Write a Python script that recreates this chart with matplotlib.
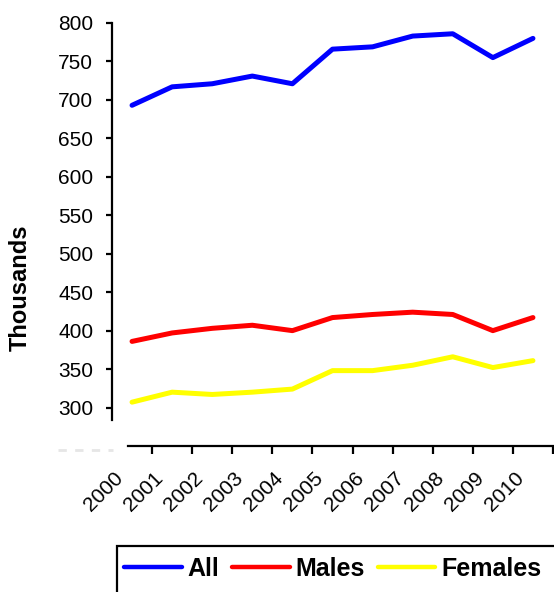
import matplotlib
matplotlib.use("Agg")
import matplotlib.pyplot as plt
import matplotlib.transforms as mtransforms
from matplotlib.patches import Rectangle
from matplotlib.lines import Line2D

years = ["2000", "2001", "2002", "2003", "2004", "2005", "2006", "2007", "2008", "2009", "2010"]
all_people = [693, 717, 721, 731, 721, 766, 769, 783, 786, 755, 780]
males = [386, 397, 403, 407, 400, 417, 421, 424, 421, 400, 417]
females = [307, 320, 317, 320, 324, 348, 348, 355, 366, 352, 361]
series_names = ["All", "Males", "Females"]
series_colors = ["#0000FF", "#FF0000", "#FFFF00"]
y_ticks = [300, 350, 400, 450, 500, 550, 600, 650, 700, 750, 800]

plt.rcParams['font.family'] = ['Liberation Sans', 'DejaVu Sans']

W, H = 554, 592
fig = plt.figure(figsize=(W / 100, H / 100), dpi=100)
ax = fig.add_axes([112 / W, 1 - 446 / H, (553 - 112) / W, (446 - 23) / H])

x = list(range(len(years)))
for vals, name, col in zip([all_people, males, females], series_names, series_colors):
    ax.plot(x, vals, color=col, lw=3.6, solid_capstyle='round', solid_joinstyle='round', label=name)

ax.set_xlim(-0.5, len(years) - 0.5)
ax.set_ylim(250, 800)

for s in ['top', 'right']:
    ax.spines[s].set_visible(False)
ax.spines['left'].set_linewidth(1.6)
ax.spines['bottom'].set_linewidth(1.6)
ax.spines['left'].set_bounds(284, 800)
ax.spines['bottom'].set_bounds(-0.1, len(years) - 0.5)

ax.set_yticks(y_ticks)
ax.set_yticklabels([str(v) for v in y_ticks])
ax.tick_params(axis='y', direction='out', length=4.5, width=1.6, pad=9, labelsize=15)

ax.set_xticks(x)
ax.set_xticklabels(years, rotation=45, ha='right', va='center', rotation_mode='anchor', fontsize=15)
ax.tick_params(axis='x', which='major', length=0, pad=0)
ax.set_xticks([i + 0.5 for i in x], minor=True)
ax.tick_params(axis='x', which='minor', direction='out', length=6, width=1.6)
offset = mtransforms.ScaledTranslation(-12 / 100, -29 / 100, fig.dpi_scale_trans)
for lbl in ax.get_xticklabels():
    lbl.set_transform(lbl.get_transform() + offset)

# faint axis-break mark
fig.add_artist(Line2D([58 / W, 113 / W], [1 - 450 / H, 1 - 450 / H], color='#e6e6e6', lw=2,
                      linestyle=(0, (3, 3)), transform=fig.transFigure))

fig.text(20 / W, 1 - 288 / H, "Thousands", rotation=90, ha='center', va='center',
         fontsize=17, fontweight='bold')

# legend frame (extends beyond the figure)
fig.add_artist(Rectangle((117 / W, -0.05), (600 - 117) / W, 1 - 546 / H + 0.05,
                         transform=fig.transFigure, fill=False, edgecolor='black', lw=1.6,
                         clip_on=False))
handles, labels = ax.get_legend_handles_labels()
leg = fig.legend(handles, labels, loc='center left', bbox_to_anchor=(124 / W, 1 - 569 / H),
                 ncol=3, frameon=False, borderpad=0, borderaxespad=0, handlelength=2.3,
                 handletextpad=0.25, columnspacing=0.5,
                 prop={'weight': 'bold', 'size': 18})
for lh in leg.get_lines():
    lh.set_linewidth(3.2)

fig.savefig("out.png", dpi=100)
